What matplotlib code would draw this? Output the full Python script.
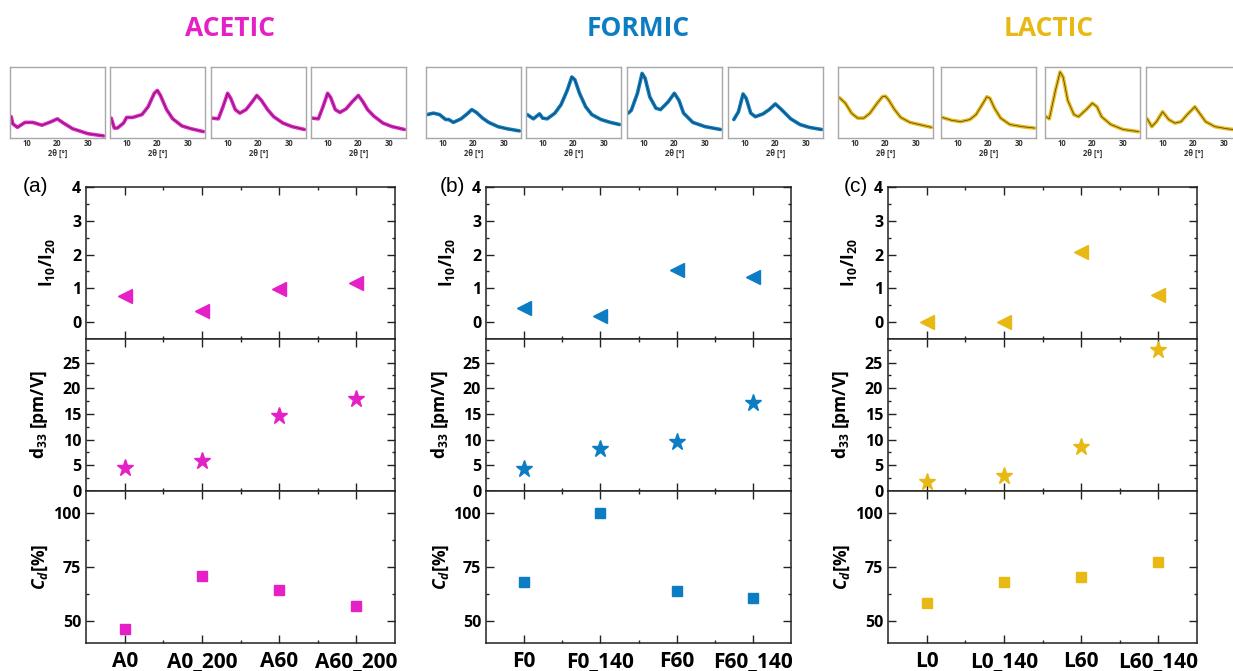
import numpy as np
import matplotlib
matplotlib.use('Agg')
from matplotlib import pyplot as plt
from matplotlib.ticker import MultipleLocator, FixedLocator

plt.rcParams['font.family'] = ['Open Sans', 'DejaVu Sans']
plt.rcParams['mathtext.fontset'] = 'custom'
plt.rcParams['mathtext.rm'] = 'Open Sans:bold'
plt.rcParams['mathtext.it'] = 'Open Sans:bold:italic'
plt.rcParams['mathtext.bf'] = 'Open Sans:bold'

#### data ####

acids = ['ACETIC', 'FORMIC', 'LACTIC']
colors = ['#E420C6', '#0C7DC3', '#E8B914']
panel_tags = ['(a)', '(b)', '(c)']

acetic_samples = ['A0', 'A0_200', 'A60', 'A60_200']
formic_samples = ['F0', 'F0_140', 'F60', 'F60_140']
lactic_samples = ['L0', 'L0_140', 'L60', 'L60_140']

# I10/I20 intensity ratio
acetic_ratio = [0.76, 0.34, 0.97, 1.15]
formic_ratio = [0.41, 0.19, 1.54, 1.35]
lactic_ratio = [0.0, 0.0, 2.09, 0.80]

# d33 [pm/V]
acetic_d33 = [4.5, 5.9, 14.7, 18.0]
formic_d33 = [4.3, 8.1, 9.6, 17.2]
lactic_d33 = [1.8, 2.9, 8.6, 27.4]

# Cd [%]
acetic_cd = [46.6, 70.7, 64.6, 57.2]
formic_cd = [68.1, 99.9, 63.8, 60.7]
lactic_cd = [58.4, 68.1, 70.2, 77.2]

# XRD patterns in the small insets (2theta, normalised intensity)
a0_tt = [5, 5.5, 7, 9.5, 12, 15, 18, 20, 22, 25, 30, 35]
a0_int = [0.30, 0.20, 0.15, 0.22, 0.22, 0.18, 0.23, 0.27, 0.21, 0.13, 0.06, 0.03]
a0_200_tt = [5, 6, 7, 9, 10, 12, 15, 17, 19, 20, 21, 23, 25, 28, 31, 35]
a0_200_int = [0.28, 0.14, 0.14, 0.21, 0.29, 0.29, 0.33, 0.44, 0.63, 0.67, 0.60, 0.40, 0.27, 0.17, 0.13, 0.09]
a60_tt = [5, 7, 8.5, 10, 11, 12.5, 14, 16, 18, 19.5, 21, 23, 25, 28, 31, 35]
a60_int = [0.28, 0.27, 0.44, 0.63, 0.56, 0.40, 0.35, 0.40, 0.51, 0.60, 0.53, 0.40, 0.30, 0.21, 0.16, 0.12]
a60_200_tt = [5, 7, 8.5, 10, 11, 12.5, 14, 16, 18, 20, 21.5, 23, 25, 28, 31, 35]
a60_200_int = [0.28, 0.27, 0.44, 0.63, 0.57, 0.40, 0.36, 0.41, 0.51, 0.60, 0.51, 0.40, 0.31, 0.21, 0.16, 0.12]

f0_tt = [5, 7, 9, 11, 12, 13.5, 16, 18, 19.5, 21, 23, 25, 28, 31, 35]
f0_int = [0.33, 0.35, 0.33, 0.26, 0.26, 0.22, 0.27, 0.34, 0.40, 0.36, 0.28, 0.22, 0.16, 0.13, 0.10]
f0_140_tt = [5, 7, 9, 10, 11.5, 14, 16, 18, 19.5, 20.5, 22, 24, 26, 29, 32, 35]
f0_140_int = [0.33, 0.27, 0.34, 0.28, 0.27, 0.35, 0.47, 0.67, 0.86, 0.82, 0.63, 0.44, 0.33, 0.26, 0.22, 0.19]
f60_tt = [5, 6, 8, 9.5, 10.5, 12, 14, 15.5, 18, 20, 21.5, 23, 26, 30, 35]
f60_int = [0.35, 0.39, 0.63, 0.91, 0.84, 0.58, 0.42, 0.40, 0.51, 0.63, 0.53, 0.35, 0.22, 0.16, 0.12]
f60_140_tt = [6.5, 8, 9.5, 10.5, 12, 13.5, 16, 18, 20, 22, 25, 28, 31, 35]
f60_140_int = [0.26, 0.37, 0.62, 0.56, 0.35, 0.30, 0.34, 0.40, 0.48, 0.40, 0.27, 0.19, 0.15, 0.12]

l0_tt = [5, 7, 9, 11, 13, 15, 17, 19, 20, 21, 23, 25, 28, 31, 35]
l0_int = [0.57, 0.49, 0.35, 0.28, 0.28, 0.35, 0.47, 0.58, 0.59, 0.54, 0.40, 0.29, 0.22, 0.19, 0.15]
l0_140_tt = [5, 8, 11, 14, 16, 18, 19.5, 20.5, 22, 24, 27, 31, 35]
l0_140_int = [0.29, 0.25, 0.23, 0.26, 0.33, 0.47, 0.58, 0.56, 0.42, 0.28, 0.19, 0.16, 0.14]
l60_tt = [5, 6, 8, 9.5, 10.5, 12, 14, 15.5, 18, 20, 21.5, 23, 26, 30, 35]
l60_int = [0.30, 0.27, 0.67, 0.93, 0.86, 0.53, 0.33, 0.30, 0.40, 0.49, 0.44, 0.30, 0.19, 0.12, 0.09]
l60_140_tt = [5, 6.5, 8, 10, 12, 14, 16, 18, 20.5, 22, 24, 27, 31, 35]
l60_140_int = [0.27, 0.16, 0.23, 0.37, 0.26, 0.21, 0.23, 0.33, 0.44, 0.35, 0.23, 0.16, 0.13, 0.11]

samples = [acetic_samples, formic_samples, lactic_samples]
ratios = [acetic_ratio, formic_ratio, lactic_ratio]
d33s = [acetic_d33, formic_d33, lactic_d33]
cds = [acetic_cd, formic_cd, lactic_cd]
xrd = [
    [(a0_tt, a0_int), (a0_200_tt, a0_200_int), (a60_tt, a60_int), (a60_200_tt, a60_200_int)],
    [(f0_tt, f0_int), (f0_140_tt, f0_140_int), (f60_tt, f60_int), (f60_140_tt, f60_140_int)],
    [(l0_tt, l0_int), (l0_140_tt, l0_140_int), (l60_tt, l60_int), (l60_140_tt, l60_140_int)],
]

#### layout (pixels of a 1233x671 figure) ####
W, H = 1233, 671
fig = plt.figure(figsize=(W / 100, H / 100), dpi=100)


def px_axes(x0, y0, x1, y1):
    return fig.add_axes([x0 / W, 1 - y1 / H, (x1 - x0) / W, (y1 - y0) / H])


panel_x = [(86, 395), (486, 791), (888, 1197)]
row_y = [(187, 339), (339, 491), (491, 643)]
inset_left = [[10, 110, 211, 311], [426, 526, 627, 728], [838, 941, 1045, 1146]]
title_x = [230, 638, 1049]
tag_x = [36, 452, 856]


def setup_axis(ax, ylim, major, minor):
    ax.set_xlim(0.5, 4.5)
    ax.set_ylim(*ylim)
    ax.xaxis.set_major_locator(FixedLocator([1, 2, 3, 4]))
    ax.xaxis.set_minor_locator(FixedLocator([1.5, 2.5, 3.5]))
    ax.yaxis.set_major_locator(MultipleLocator(major))
    ax.yaxis.set_minor_locator(MultipleLocator(minor))
    ax.tick_params(which='both', direction='in', top=True, right=True,
                   width=1.0, color='#222222', labelsize=11.5)
    ax.tick_params(which='major', length=5.5)
    ax.tick_params(which='minor', length=2.5)
    ax.tick_params(axis='x', labelbottom=False)
    for s in ax.spines.values():
        s.set_linewidth(1.1)
        s.set_color('#222222')
    for lbl in ax.get_yticklabels():
        lbl.set_fontweight('bold')


for i in range(3):
    c = colors[i]
    x = np.arange(1, 5)
    (xl, xr) = panel_x[i]

    # acid name
    fig.text(title_x[i] / W, 1 - 28 / H, acids[i], color=c, fontsize=19,
             fontweight='bold', ha='center', va='center')
    fig.text(tag_x[i] / W, 1 - 187 / H, panel_tags[i], fontsize=15,
             ha='center', va='center', family='Liberation Sans')

    # XRD insets: measured pattern (colour) with the fit (thin dark line)
    for j in range(4):
        xi = inset_left[i][j]
        axi = px_axes(xi, 67, xi + 95, 138)
        tt, ii = xrd[i][j]
        axi.plot(tt, ii, color=c, lw=2.6, solid_capstyle='round',
                 solid_joinstyle='round')
        axi.plot(tt, ii, color='#2a2a2a', lw=0.5, alpha=0.85)
        axi.set_xlim(4.6, 35.5)
        axi.set_ylim(0, 1)
        axi.set_yticks([])
        axi.set_xticks([10, 20, 30])
        axi.tick_params(length=0, pad=1, labelsize=5.5, labelcolor='#333333')
        for lbl in axi.get_xticklabels():
            lbl.set_fontweight('bold')
        axi.set_xlabel('2θ [°]', fontsize=5.5, fontweight='bold',
                       color='#333333', labelpad=0)
        for s in axi.spines.values():
            s.set_color('#a8a8a8')
            s.set_linewidth(1.0)

    # I10/I20
    ax1 = px_axes(xl, row_y[0][0], xr, row_y[0][1])
    ax1.plot(x, ratios[i], ls='none', marker='<', ms=10, color=c, mec=c)
    setup_axis(ax1, (-0.5, 4), 1, 0.5)
    ax1.set_ylabel(r'I$_{10}$/I$_{20}$', fontsize=12.5, fontweight='bold')
    ax1.yaxis.set_label_coords(-0.095, 0.5)

    # d33
    ax2 = px_axes(xl, row_y[1][0], xr, row_y[1][1])
    ax2.plot(x, d33s[i], ls='none', marker='*', ms=12.5, color=c, mec=c)
    setup_axis(ax2, (0, 29.6), 5, 2.5)
    ax2.set_ylabel(r'd$_{33}$ [pm/V]', fontsize=12.5, fontweight='bold')
    ax2.yaxis.set_label_coords(-0.115, 0.5)

    # Cd
    ax3 = px_axes(xl, row_y[2][0], xr, row_y[2][1])
    ax3.plot(x, cds[i], ls='none', marker='s', ms=7.2, color=c, mec=c)
    setup_axis(ax3, (40, 110), 25, 12.5)
    ax3.set_ylabel(r'$C_d$[%]', fontsize=12.5, fontweight='bold')
    ax3.yaxis.set_label_coords(-0.115, 0.5)
    ax3.tick_params(axis='x', labelbottom=True, labelsize=15, pad=6)
    ax3.set_xticklabels(samples[i])
    for lbl in ax3.get_xticklabels():
        lbl.set_fontweight('bold')

fig.savefig('out.png', dpi=100, facecolor='white')
